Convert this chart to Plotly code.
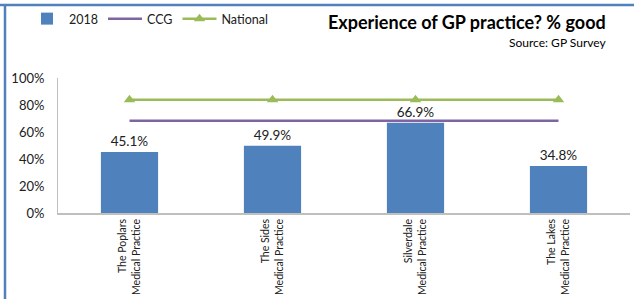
import plotly.graph_objects as go

categories = ["The Poplars<br>Medical Practice", "The Sides<br>Medical Practice",
              "Silverdale<br>Medical Practice", "The Lakes<br>Medical Practice"]
values_2018 = [0.451, 0.499, 0.669, 0.348]
ccg = [0.683, 0.683, 0.683, 0.683]
national = [0.839, 0.839, 0.839, 0.839]
y_ticks = [0, 0.2, 0.4, 0.6, 0.8, 1.0]
y_tick_labels = ["0%", "20%", "40%", "60%", "80%", "100%"]

FONT = "Lato"
W, H = 634, 303
L, R, T, B = 58, 4, 78, 90
pw = W - L - R
ph = H - T - B

def px(x):
    return (x - L) / pw

def py(y):
    return (H - B - y) / ph

fig = go.Figure()
fig.add_trace(go.Bar(
    x=categories, y=values_2018, name="2018",
    marker=dict(color="#4F81BD", line=dict(width=0)),
    width=0.4,
    texttemplate="%{y:.1%}", textposition="outside",
    textfont=dict(family=FONT, size=13.5, color="#202020"),
    cliponaxis=False,
))
fig.add_trace(go.Scatter(
    x=categories, y=ccg, name="CCG", mode="lines",
    line=dict(color="#8064A2", width=2.5),
))
fig.add_trace(go.Scatter(
    x=categories, y=national, name="National", mode="lines+markers",
    line=dict(color="#9BBB59", width=2.5),
    marker=dict(symbol="triangle-up", size=10, color="#9BBB59"),
))

shapes = [
    dict(type="line", xref="paper", yref="paper", x0=px(0), x1=px(W), y0=py(5), y1=py(5),
         line=dict(color="#4F81BD", width=2.5)),
    dict(type="line", xref="paper", yref="paper", x0=px(5), x1=px(5), y0=py(5), y1=py(299),
         line=dict(color="#4F81BD", width=2.5)),
]

fig.update_layout(
    width=W, height=H,
    margin=dict(l=L, r=R, t=T, b=B, autoexpand=False),
    paper_bgcolor="white", plot_bgcolor="white",
    font=dict(family=FONT, size=12, color="#202020"),
    showlegend=True,
    legend=dict(orientation="h", x=px(25), y=py(19), xanchor="left", yanchor="middle",
                font=dict(family=FONT, size=12.5), bgcolor="rgba(0,0,0,0)",
                traceorder="normal", itemwidth=34),
    bargap=0.6,
    shapes=shapes,
    annotations=[
        dict(text="<b>Experience of GP practice? % good</b>", xref="paper", yref="paper",
             x=px(608), y=py(22), xanchor="right", yanchor="middle", showarrow=False,
             font=dict(family=FONT, size=18, color="#000000")),
        dict(text="Source: GP Survey", xref="paper", yref="paper",
             x=px(608), y=py(43), xanchor="right", yanchor="middle", showarrow=False,
             font=dict(family=FONT, size=12, color="#000000")),
    ],
)
fig.update_xaxes(showline=True, linecolor="#BFBFBF", linewidth=1.5, ticks="",
                 tickangle=-90, tickfont=dict(family=FONT, size=10.5, color="#202020"),
                 showgrid=False)
fig.update_yaxes(range=[0, 1], tickvals=y_ticks, ticktext=y_tick_labels,
                 showline=True, linecolor="#BFBFBF", linewidth=1, ticks="",
                 showgrid=False, zeroline=False,
                 tickfont=dict(family=FONT, size=13, color="#202020"), ticklabelstandoff=10)
fig.write_html("out.html", config={"displayModeBar": False},
               post_script="document.body.style.margin='0';")
